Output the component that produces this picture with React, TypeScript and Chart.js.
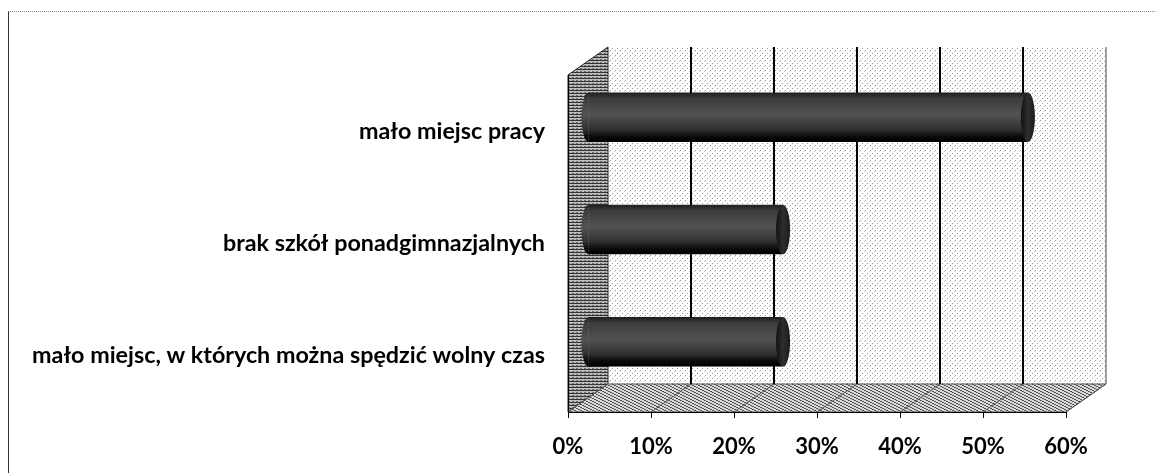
import React, { useEffect, useRef } from "react";
import { Chart, registerables } from "chart.js";

Chart.register(...registerables);

const CATEGORIES = [
  "mało miejsc pracy",
  "brak szkół ponadgimnazjalnych",
  "mało miejsc, w których można spędzić wolny czas",
];
const VALUES = [53, 23.5, 23.5];
const AXIS_MIN = 0;
const AXIS_MAX = 60;
const AXIS_STEP = 10;

const DEPTH_X = 40;
const DEPTH_Y = -28;
const BAR_PCT = 0.44;
const LABEL_FONT = { family: "Lato, 'Open Sans', sans-serif", weight: "bold" as const, size: 23.3 };
const TICK_FONT = { family: "Lato, 'Open Sans', sans-serif", weight: "bold" as const, size: 22 };

function makePattern(ctx: CanvasRenderingContext2D, kind: string) {
  const c = document.createElement("canvas");
  const p = c.getContext("2d")!;
  if (kind === "dots") {
    c.width = 5; c.height = 5;
    p.fillStyle = "#ffffff"; p.fillRect(0, 0, 5, 5);
    p.fillStyle = "#9a9a9a";
    p.fillRect(0, 0, 1, 1);
    p.fillRect(2, 3, 1, 1);
    p.fillStyle = "#c8c8c8";
    p.fillRect(4, 1, 1, 1);
  } else if (kind === "hlines") {
    c.width = 4; c.height = 3;
    p.fillStyle = "#bdbdbd"; p.fillRect(0, 0, 4, 3);
    p.fillStyle = "#333333"; p.fillRect(0, 0, 4, 1);
    p.fillStyle = "#707070"; p.fillRect(0, 2, 2, 1);
  } else {
    c.width = 6; c.height = 3;
    p.fillStyle = "#d8d8d8"; p.fillRect(0, 0, 6, 3);
    p.fillStyle = "#555555";
    for (let i = 0; i < 6; i++) p.fillRect(i, Math.floor(i / 2) % 3, 1, 1);
  }
  return ctx.createPattern(c, "repeat")!;
}

function barGradient(ctx: CanvasRenderingContext2D, yc: number, h: number) {
  if (!isFinite(yc) || !isFinite(h) || h <= 0) return "#333333";
  const g = ctx.createLinearGradient(0, yc - h / 2, 0, yc + h / 2);
  g.addColorStop(0, "#1e1e1e");
  g.addColorStop(0.12, "#3c3c3c");
  g.addColorStop(0.45, "#525252");
  g.addColorStop(0.75, "#303030");
  g.addColorStop(0.88, "#0c0c0c");
  g.addColorStop(1, "#000000");
  return g;
}

const wallsPlugin = {
  id: "walls3d",
  beforeDraw(chart: any) {
    const { ctx, chartArea } = chart;
    const { left, right, top, bottom } = chartArea;
    const xs = chart.scales.x;
    ctx.save();
    // back wall
    ctx.fillStyle = makePattern(ctx, "dots");
    ctx.fillRect(left + DEPTH_X, top + DEPTH_Y, right - left, bottom - top);
    // side wall
    ctx.beginPath();
    ctx.moveTo(left, bottom);
    ctx.lineTo(left, top);
    ctx.lineTo(left + DEPTH_X, top + DEPTH_Y);
    ctx.lineTo(left + DEPTH_X, bottom + DEPTH_Y);
    ctx.closePath();
    ctx.fillStyle = makePattern(ctx, "hlines");
    ctx.fill();
    ctx.strokeStyle = "#222";
    ctx.lineWidth = 1;
    ctx.stroke();
    // floor
    ctx.beginPath();
    ctx.moveTo(left, bottom);
    ctx.lineTo(right, bottom);
    ctx.lineTo(right + DEPTH_X, bottom + DEPTH_Y);
    ctx.lineTo(left + DEPTH_X, bottom + DEPTH_Y);
    ctx.closePath();
    ctx.fillStyle = makePattern(ctx, "diag");
    ctx.fill();
    ctx.strokeStyle = "#555";
    ctx.stroke();
    // grid lines on back wall and floor
    xs.ticks.forEach((t: any) => {
      const x = xs.getPixelForValue(t.value);
      if (t.value > AXIS_MIN) {
        ctx.beginPath();
        ctx.moveTo(x + DEPTH_X, top + DEPTH_Y);
        ctx.lineTo(x + DEPTH_X, bottom + DEPTH_Y);
        ctx.strokeStyle = t.value >= AXIS_MAX ? "#444" : "#000";
        ctx.lineWidth = t.value >= AXIS_MAX ? 1 : 2;
        ctx.stroke();
      }
      ctx.beginPath();
      ctx.moveTo(x, bottom);
      ctx.lineTo(x + DEPTH_X, bottom + DEPTH_Y);
      ctx.strokeStyle = "#555";
      ctx.lineWidth = 1;
      ctx.stroke();
    });
    ctx.restore();
  },
  beforeDatasetsDraw(chart: any) {
    chart.ctx.save();
    chart.ctx.translate(DEPTH_X / 2, DEPTH_Y / 2);
  },
  afterDatasetsDraw(chart: any) {
    const ctx = chart.ctx;
    const meta = chart.getDatasetMeta(0);
    meta.data.forEach((el: any) => {
      const { x, y, base, height } = el.getProps(["x", "y", "base", "height"], true);
      const rx = 7;
      // rounded back end
      ctx.beginPath();
      ctx.ellipse(base, y, rx, height / 2, 0, Math.PI / 2, (3 * Math.PI) / 2);
      ctx.closePath();
      ctx.fillStyle = barGradient(ctx, y, height);
      ctx.fill();
      // front cap
      ctx.beginPath();
      ctx.ellipse(x, y, rx, height / 2, 0, 0, Math.PI * 2);
      const g = ctx.createLinearGradient(x - rx, 0, x + rx, 0);
      g.addColorStop(0, "#111");
      g.addColorStop(0.5, "#2e2e2e");
      g.addColorStop(1, "#1a1a1a");
      ctx.fillStyle = g;
      ctx.fill();
    });
    ctx.restore();
  },
};

export default function App() {
  const ref = useRef<HTMLCanvasElement>(null);
  useEffect(() => {
    if (!ref.current) return;
    const chart = new Chart(ref.current, {
      type: "bar",
      data: {
        labels: CATEGORIES,
        datasets: [
          {
            data: VALUES,
            backgroundColor: (c: any) => {
              const ch = c.chart;
              const ys = ch.scales && ch.scales.y;
              if (!ys || c.dataIndex === undefined) return "#333333";
              const yc = ys.getPixelForValue(c.dataIndex);
              const h = (ys.height / CATEGORIES.length) * BAR_PCT;
              return barGradient(ch.ctx, yc, h);
            },
            borderWidth: 0,
            barPercentage: BAR_PCT,
            categoryPercentage: 1,
          },
        ],
      },
      options: {
        indexAxis: "y",
        responsive: false,
        animation: false,
        layout: { padding: { top: 75, right: 89, bottom: 0, left: 0 } },
        plugins: { legend: { display: false }, tooltip: { enabled: false } },
        scales: {
          x: {
            min: AXIS_MIN,
            max: AXIS_MAX,
            ticks: {
              stepSize: AXIS_STEP,
              callback: (v: any) => v + "%",
              color: "#000",
              font: TICK_FONT,
              padding: 16,
              maxRotation: 0,
            },
            grid: { drawOnChartArea: false, drawTicks: true, tickLength: 6, color: "#000" },
            border: { display: true, color: "#000", width: 1 },
            afterFit: (s: any) => {
              s.height = 61;
            },
          },
          y: {
            ticks: { color: "#000", font: LABEL_FONT, padding: 23 },
            grid: { display: false, drawTicks: false },
            border: { display: true, color: "#000", width: 1 },
            afterFit: (s: any) => {
              s.width = 568;
            },
          },
        },
      } as any,
      plugins: [wallsPlugin],
    });
    return () => chart.destroy();
  }, []);
  return (
    <div style={{ position: "absolute", left: 0, top: 0, width: 1155, height: 473 }}>
      <div
        style={{
          position: "absolute",
          left: 8,
          top: 11,
          width: 1147,
          height: 462,
          borderLeft: "1px solid #333",
          borderTop: "1px dotted #888",
          boxSizing: "border-box",
        }}
      />
      <canvas
        ref={ref}
        width={1155}
        height={473}
        style={{ position: "absolute", left: 0, top: 0, width: 1155, height: 473 }}
      />
    </div>
  );
}
